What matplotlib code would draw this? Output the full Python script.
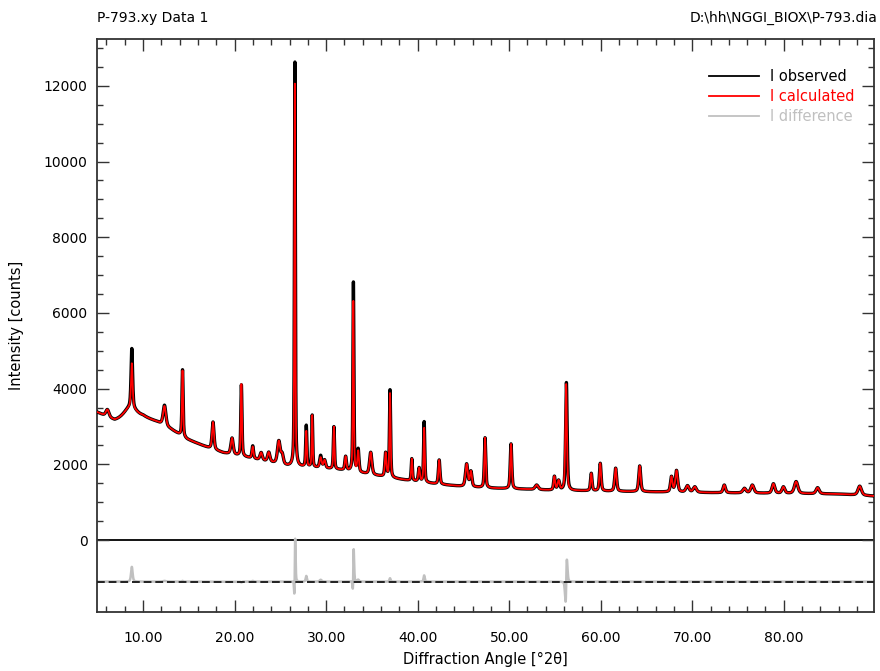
import numpy as np
import matplotlib.pyplot as plt

# background knots (2theta, counts)
bg_x = [5, 6.9, 10, 11.5, 13, 14.8, 17.2, 18.8, 21, 23.5, 25.8, 29.5, 32, 35.5,
        38.5, 42, 45, 48, 52, 55, 58, 63, 66, 72, 80, 86, 89.9]
bg_y = [3370, 3150, 3250, 3120, 2930, 2660, 2430, 2300, 2200, 2070, 1950, 1900, 1840, 1700,
        1590, 1480, 1410, 1370, 1340, 1310, 1300, 1280, 1270, 1250, 1230, 1215, 1160]

# reflections: position, width, calculated and observed height above background
peak_pos = [6.1, 8.6, 8.77, 12.34, 14.31, 17.64, 19.72, 20.74, 21.98, 22.9, 23.73, 24.83, 25.2,
            26.58, 27.83, 28.48, 29.4, 29.83, 30.85, 32.13, 32.97, 33.5, 34.87, 36.5, 36.98,
            39.36, 40.16, 40.71, 42.35, 45.35, 45.82, 47.36, 50.2, 53.0, 54.94, 55.4, 56.22,
            58.97, 59.95, 61.63, 64.26, 67.73, 68.28, 69.48, 70.28, 73.5, 75.7, 76.57, 78.87,
            79.96, 81.35, 83.7, 88.3]
peak_fwhm = [0.4, 1.6, 0.2, 0.35, 0.15, 0.25, 0.3, 0.15, 0.2, 0.3, 0.3, 0.35, 0.3,
             0.12, 0.15, 0.13, 0.25, 0.25, 0.15, 0.2, 0.13, 0.2, 0.3, 0.2, 0.15,
             0.15, 0.2, 0.15, 0.2, 0.3, 0.25, 0.18, 0.2, 0.4, 0.2, 0.25, 0.2,
             0.2, 0.22, 0.25, 0.25, 0.25, 0.3, 0.4, 0.4, 0.3, 0.4, 0.4, 0.35,
             0.35, 0.45, 0.4, 0.45]
calc_height = [190, 300, 1170, 520, 1740, 720, 430, 1900, 310, 200, 250, 600, 250,
               10110, 940, 1370, 270, 210, 1120, 360, 4500, 550, 585, 625, 2220,
               580, 360, 1435, 640, 595, 400, 1320, 1185, 120, 360, 250, 2810,
               460, 730, 610, 680, 400, 565, 170, 145, 205, 120, 210, 250,
               170, 315, 160, 240]
obs_height = [190, 300, 1560, 540, 1760, 720, 430, 1880, 330, 200, 250, 600, 250,
              10720, 1090, 1370, 320, 210, 1120, 360, 5000, 600, 585, 625, 2310,
              580, 360, 1600, 640, 595, 400, 1320, 1185, 120, 360, 250, 2850,
              460, 730, 610, 680, 400, 565, 170, 145, 205, 120, 210, 250,
              170, 315, 160, 240]
obs_shift = [0, 0, 0, 0, 0, 0, 0, 0, 0, 0, 0, 0, 0,
             0.006, 0, 0, 0, 0, 0, 0, 0.01, 0, 0, 0, 0,
             0, 0, 0, 0, 0, 0, 0, 0, 0, 0, 0, 0.03,
             0, 0, 0, 0, 0, 0, 0, 0, 0, 0, 0, 0,
             0, 0, 0, 0]

diff_offset = -1100


def pvoigt(x, pos, h, w, eta=0.5):
    d = (x - pos) / w
    g = np.exp(-4 * np.log(2) * d ** 2)
    l = 1 / (1 + 4 * d ** 2)
    return h * (eta * l + (1 - eta) * g)


tth = np.arange(5, 89.9, 0.01)
bg = np.interp(tth, bg_x, bg_y)
calc = bg.copy()
obs = bg.copy()
for p, w, hc, ho, s in zip(peak_pos, peak_fwhm, calc_height, obs_height, obs_shift):
    calc += pvoigt(tth, p, hc, w)
    obs += pvoigt(tth, p + s, ho, w)
diff = obs - calc + diff_offset

plt.rcParams['font.family'] = ['DejaVu Sans']
fig = plt.figure(figsize=(8.8, 6.71), dpi=100)
ax = fig.add_axes([0.1106, 0.0872, 0.8830, 0.8551])

ax.plot(tth, obs, color='black', lw=2.4, label='I observed', zorder=3)
ax.plot(tth, calc, color='#ff0000', lw=1.3, label='I calculated', zorder=4)
ax.plot(tth, diff, color='#c0c0c0', lw=1.8, label='I difference', zorder=2)
ax.axhline(0, color='black', lw=1.3, zorder=1)
ax.axhline(diff_offset, color='#222222', lw=1.4, ls=(0, (4, 2)), zorder=3)

ax.set_xlim(5, 89.9)
ax.set_ylim(-1915, 13245)

ax.set_xticks(np.arange(10, 81, 10))
ax.set_xticklabels(['%.2f' % v for v in np.arange(10, 81, 10)])
ax.set_xticks([v for v in np.arange(6, 90, 2) if v % 10 != 0], minor=True)
ax.set_yticks(np.arange(0, 12001, 2000))
ax.set_yticks([v for v in np.arange(500, 13001, 500) if v % 2000 != 0], minor=True)

ax.tick_params(which='both', direction='in', top=True, right=True, labelsize=10,
               width=1.0, color='#333333')
ax.tick_params(which='major', length=8.5)
ax.tick_params(which='minor', length=4.3)
ax.tick_params(axis='x', pad=13)
ax.tick_params(axis='y', pad=7)
for sp in ax.spines.values():
    sp.set_linewidth(1.3)
    sp.set_color('#333333')

ax.set_xlabel('Diffraction Angle [°2θ]', fontsize=10.5)
ax.xaxis.set_label_coords(0.5, -0.068)
ax.set_ylabel('Intensity [counts]', fontsize=10.5)
ax.yaxis.set_label_coords(-0.095, 0.5)

fig.text(97 / 880, 1 - 18 / 671, 'P-793.xy Data 1', fontsize=10, ha='left', va='center')
fig.text(877 / 880, 1 - 18 / 671, 'D:\\hh\\NGGI_BIOX\\P-793.dia', fontsize=10,
         ha='right', va='center')

leg = ax.legend(loc='upper left', bbox_to_anchor=(709 / 880, 1 - 69 / 671),
                bbox_transform=fig.transFigure, frameon=False, fontsize=10.5,
                handlelength=3.4, handletextpad=0.8, labelspacing=0.35,
                borderpad=0, borderaxespad=0, labelcolor='linecolor')
for line in leg.get_lines():
    line.set_linewidth(1.3)

fig.savefig('out.png', dpi=100)
